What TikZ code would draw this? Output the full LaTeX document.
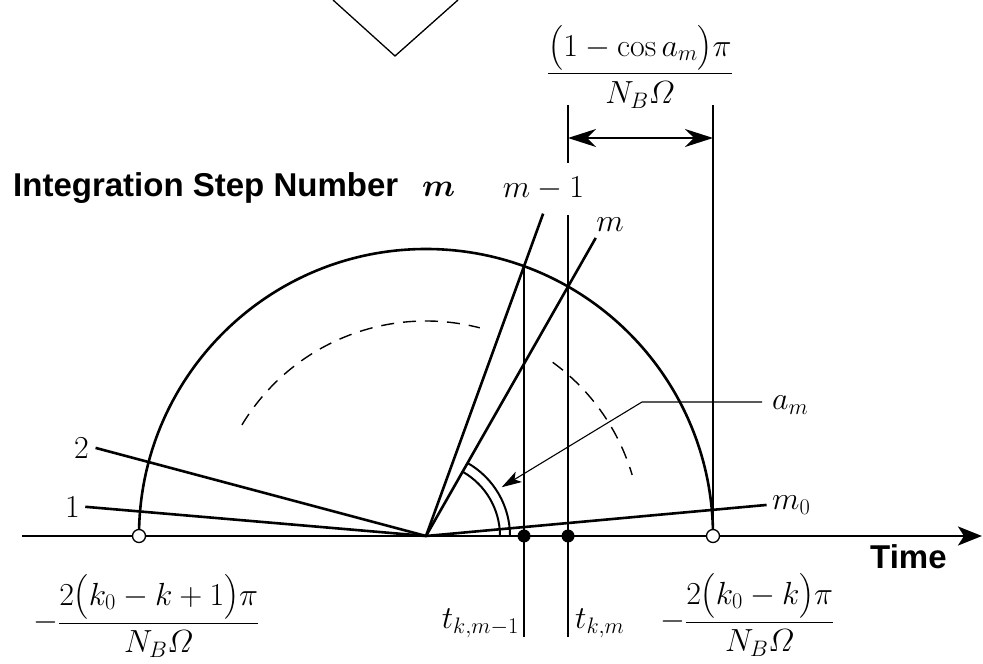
\RequirePackage{fix-cm}
\documentclass[tikz,border=0pt]{standalone}
\usepackage{amsmath}
\usepackage{fontspec}
\newfontfamily\labelsans{Liberation Sans}
\usetikzlibrary{arrows.meta}
\begin{document}
\begin{tikzpicture}[x=1pt,y=1pt,
  heavy/.style={line width=2.6pt},
  thinl/.style={line width=1.3pt},
  dasharc/.style={line width=1.4pt, dash pattern=on 13pt off 9pt},
  mathlbl/.style={inner sep=0pt, font=\fontsize{32}{38}\selectfont},
  sanslbl/.style={inner sep=0pt, font=\labelsans\bfseries\fontsize{33}{40}\selectfont},
  opencirc/.style={circle, draw, fill=white, line width=1.3pt, minimum size=13pt, inner sep=0pt},
  fulldot/.style={circle, fill=black, minimum size=13pt, inner sep=0pt}
  ]
\useasboundingbox (0,0) rectangle (983,664);
% key points
\coordinate (O) at (426,128);
\coordinate (L) at (139,128);
\coordinate (Rt) at (713,128);
\coordinate (AxS) at (22,128);
\coordinate (AxE) at (982,128);
\coordinate (E1) at ([shift={(O)}]175.1:342);
\coordinate (E2) at ([shift={(O)}]165.07:342);
\coordinate (Em1) at ([shift={(O)}]70.03:343);
\coordinate (Em) at ([shift={(O)}]60.34:343);
\coordinate (Em0) at ([shift={(O)}]5.21:342);
\coordinate (P1) at ([shift={(O)}]70.03:287);
\coordinate (Q2) at (568,449);
\coordinate (Bot) at (0,27);
\coordinate (D1a) at (568,559);
\coordinate (D1b) at (568,501);
\coordinate (D2a) at (713,559);
\coordinate (A1) at (568,526);
\coordinate (A2) at (713,526);
\coordinate (V1) at (333,664);
\coordinate (V2) at (395,608);
\coordinate (V3) at (458,664);
\coordinate (Ks) at (762,262);
\coordinate (K) at (642,262);
\coordinate (Tip) at ([shift={(O)}]32.8:90);

% V shape at top
\draw[thinl] (V1) -- (V2) -- (V3);

% semicircle
\draw[heavy] (L) arc[start angle=180, end angle=0, radius=287];
% dashed arc
\draw[dasharc] ([shift={(O)}]148.9:215) arc[start angle=148.9, end angle=75.5, radius=215];
\draw[dasharc] ([shift={(O)}]53.9:215) arc[start angle=53.9, end angle=16.5, radius=215];

% radial lines
\draw[heavy] (E1) -- (O);
\draw[heavy] (E2) -- (O);
\draw[heavy] (Em1) -- (O);
\draw[heavy] (Em) -- (O);
\draw[heavy] (Em0) -- (O);

% angle arcs
\draw[line width=2pt] ([shift={(O)}]0:74) arc[start angle=0, end angle=60.34, radius=74];
\draw[line width=2pt] ([shift={(O)}]0:84) arc[start angle=0, end angle=60.34, radius=84];

% vertical lines
\draw[thinl] (P1) -- (P1 |- Bot);
\draw[thinl] (Q2) -- (Q2 |- Bot);
\draw[thinl] (D1a) -- (D1b);
\draw[thinl] (D2a) -- (Rt);
\draw[thinl, {Stealth[length=28pt,width=18pt,inset=9pt]}-{Stealth[length=28pt,width=18pt,inset=9pt]}] (A1) -- (A2);

% time axis
\draw[heavy, -{Stealth[length=24pt,width=19pt,inset=6pt]}] (AxS) -- (AxE);

% markers
\node[opencirc] (cL) at (L) {};
\node[opencirc] (cR) at (Rt) {};
\node[fulldot] (d1) at (P1 |- O) {};
\node[fulldot] (d2) at (Q2 |- O) {};

% labels
\node[mathlbl, anchor=east] (n1) at (80,157) {$1$};
\node[mathlbl, anchor=east] (n2) at (89,216) {$2$};
\node[mathlbl, anchor=base] (nm1) at (543.5,466) {$m-1$};
\node[mathlbl, anchor=base] (nm) at (610,432) {$m$};
\node[mathlbl, anchor=base west] (nm0) at (772,154) {$m_0$};
\node[mathlbl, anchor=base west] (am) at (772,254) {$a_m$};
\node[sanslbl, anchor=base west] (title) at (13,467) {Integration Step Number};
\node[mathlbl, anchor=base west] (titlem) at (422,467) {$\boldsymbol{m}$};
\node[sanslbl, anchor=base west] (time) at (870,95) {Time};
\node[mathlbl, anchor=base east] (tkm1) at (519,35) {$t_{k,m-1}$};
\node[mathlbl, anchor=base west] (tkm) at (575,35) {$t_{k,m}$};
\node[mathlbl, anchor=base west] (fl) at (33,33) {$\displaystyle -\frac{2\bigl(k_0-k+1\bigr)\pi}{N_B\varOmega}$};
\node[mathlbl, anchor=base west] (fr) at (660,34) {$\displaystyle -\frac{2\bigl(k_0-k\bigr)\pi}{N_B\varOmega}$};
\node[mathlbl, anchor=base] (ft) at (640,582) {$\displaystyle \frac{\bigl(1-\cos a_m\bigr)\pi}{N_B\varOmega}$};

% leader to angle
\draw[line width=1.1pt, -{Stealth[length=20pt,width=12pt,inset=5pt]}] (Ks) -- (K) -- (Tip);
\end{tikzpicture}
\end{document}
